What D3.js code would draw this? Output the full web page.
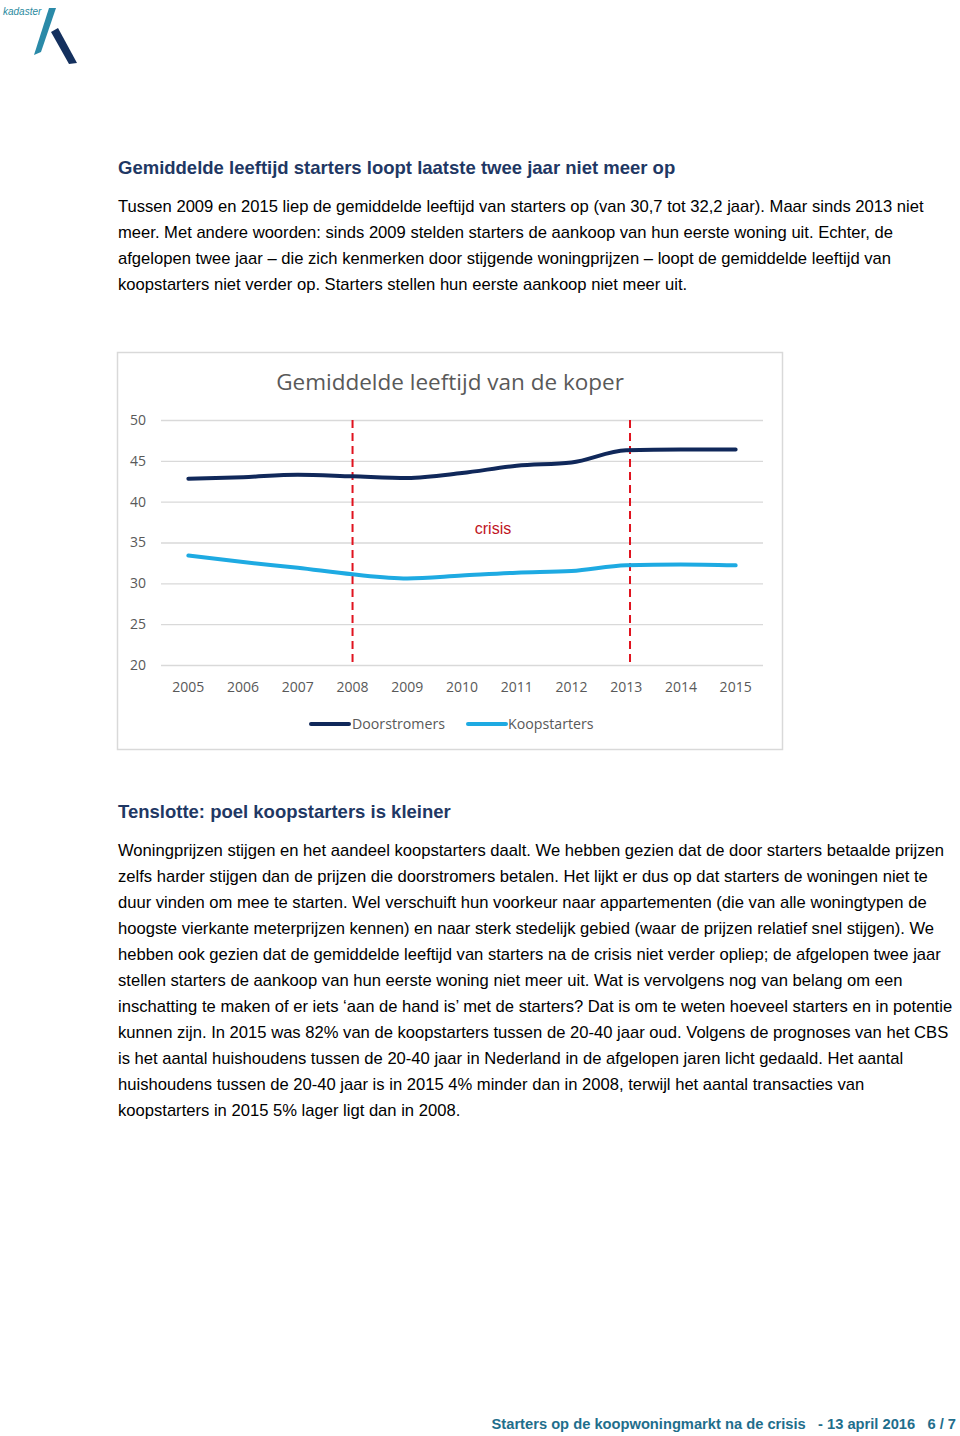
<!DOCTYPE html>
<html><head><meta charset="utf-8">
<script src="https://cdn.jsdelivr.net/npm/d3@7"></script>
<style>body{margin:0;background:#fff}svg{display:block}</style>
</head><body>
<script>
const years = [2005,2006,2007,2008,2009,2010,2011,2012,2013,2014,2015];
const doorstromers = [42.8,43.0,43.3,43.1,42.9,43.5,44.4,44.8,46.3,46.4,46.4];
const koopstarters = [33.4,32.6,31.9,31.1,30.6,30.95,31.3,31.5,32.2,32.3,32.2];
const yTicks = [20,25,30,35,40,45,50];
const crisisYears = [2008, 2013.07];
const chartTitle = "Gemiddelde leeftijd van de koper";
const seriesNames = ["Doorstromers","Koopstarters"];
const heading1 = "Gemiddelde leeftijd starters loopt laatste twee jaar niet meer op";
const para1 = [
"Tussen 2009 en 2015 liep de gemiddelde leeftijd van starters op (van 30,7 tot 32,2 jaar). Maar sinds 2013 niet",
"meer. Met andere woorden: sinds 2009 stelden starters de aankoop van hun eerste woning uit. Echter, de",
"afgelopen twee jaar \u2013 die zich kenmerken door stijgende woningprijzen \u2013 loopt de gemiddelde leeftijd van",
"koopstarters niet verder op. Starters stellen hun eerste aankoop niet meer uit."];
const heading2 = "Tenslotte: poel koopstarters is kleiner";
const para2 = [
"Woningprijzen stijgen en het aandeel koopstarters daalt. We hebben gezien dat de door starters betaalde prijzen",
"zelfs harder stijgen dan de prijzen die doorstromers betalen. Het lijkt er dus op dat starters de woningen niet te",
"duur vinden om mee te starten. Wel verschuift hun voorkeur naar appartementen (die van alle woningtypen de",
"hoogste vierkante meterprijzen kennen) en naar sterk stedelijk gebied (waar de prijzen relatief snel stijgen). We",
"hebben ook gezien dat de gemiddelde leeftijd van starters na de crisis niet verder opliep; de afgelopen twee jaar",
"stellen starters de aankoop van hun eerste woning niet meer uit. Wat is vervolgens nog van belang om een",
"inschatting te maken of er iets \u2018aan de hand is\u2019 met de starters? Dat is om te weten hoeveel starters en in potentie",
"kunnen zijn. In 2015 was 82% van de koopstarters tussen de 20-40 jaar oud. Volgens de prognoses van het CBS",
"is het aantal huishoudens tussen de 20-40 jaar in Nederland in de afgelopen jaren licht gedaald. Het aantal",
"huishoudens tussen de 20-40 jaar is in 2015 4% minder dan in 2008, terwijl het aantal transacties van",
"koopstarters in 2015 5% lager ligt dan in 2008."];
const footer = "Starters op de koopwoningmarkt na de crisis   - 13 april 2016   6 / 7";

const W = 960, H = 1436;
const svg = d3.select("body").append("svg").attr("width", W).attr("height", H);

// logo
svg.append("text").attr("x",3).attr("y",15).attr("font-family","Liberation Sans, Arial, sans-serif")
  .attr("font-style","italic").attr("font-size",10).attr("fill","#2a8aa0").text("kadaster");
svg.append("path").attr("d","M49,8 L56,8 L41,52 L34,55 Z").attr("fill","#2a8aa8");
svg.append("path").attr("d","M51,32 L58,28 L77,63 L69,64 Z").attr("fill","#14305e");

const bodyFont = "Liberation Sans, Arial, sans-serif";
svg.append("text").attr("x",118).attr("y",174).attr("font-family",bodyFont).attr("font-weight","bold")
  .attr("font-size",18.5).attr("fill","#1f3864").text(heading1);
para1.forEach((t,i)=>svg.append("text").attr("x",118).attr("y",212+i*26).attr("font-family",bodyFont)
  .attr("font-size",16.6).attr("fill","#000").text(t));
svg.append("text").attr("x",118).attr("y",818).attr("font-family",bodyFont).attr("font-weight","bold")
  .attr("font-size",18.5).attr("fill","#1f3864").text(heading2);
para2.forEach((t,i)=>svg.append("text").attr("x",118).attr("y",856+i*26).attr("font-family",bodyFont)
  .attr("font-size",16.6).attr("fill","#000").text(t));
svg.append("text").attr("x",956).attr("y",1429).attr("text-anchor","end").attr("font-family",bodyFont)
  .attr("font-weight","bold").attr("font-size",14.7).attr("fill","#1f6e8c").attr("xml:space","preserve").text(footer);

// chart box
svg.append("rect").attr("x",117.5).attr("y",352.5).attr("width",665).attr("height",397)
  .attr("fill","#fff").attr("stroke","#d9d9d9").attr("stroke-width",1.5);

const chartFont = "'Open Sans', sans-serif";
svg.append("text").attr("x",450).attr("y",390).attr("text-anchor","middle").attr("font-family",chartFont)
  .attr("font-size",22.5).attr("fill","#595959").text(chartTitle);

const x = d3.scaleBand().domain(years).range([161,763]);
const xl = d3.scaleLinear().domain([years[0], years[years.length-1]])
  .range([x(years[0])+x.bandwidth()/2, x(years[years.length-1])+x.bandwidth()/2]);
const y = d3.scaleLinear().domain([20,50]).range([665,420]);

const yAxis = svg.append("g").attr("transform","translate(161,0)")
  .call(d3.axisLeft(y).tickValues(yTicks).tickSize(-602).tickPadding(15));
yAxis.select(".domain").remove();
yAxis.selectAll("line").attr("stroke","#d9d9d9").attr("stroke-width",1.3);
yAxis.selectAll("text").attr("font-family",chartFont).attr("font-size",14).attr("fill","#595959");

const xAxis = svg.append("g").attr("transform","translate(0,665)")
  .call(d3.axisBottom(x).tickSize(0).tickPadding(17));
xAxis.select(".domain").remove();
xAxis.selectAll("text").attr("font-family",chartFont).attr("font-size",14).attr("fill","#595959");

// crisis lines
svg.selectAll(".crisis").data(crisisYears).enter().append("line")
  .attr("x1",d=>xl(d)).attr("x2",d=>xl(d)).attr("y1",y(50)).attr("y2",y(20))
  .attr("stroke","#e0131f").attr("stroke-width",2).attr("stroke-dasharray","8,5");
svg.append("text").attr("x",493).attr("y",534).attr("text-anchor","middle").attr("font-family",bodyFont)
  .attr("font-size",16).attr("fill","#c0141e").text("crisis");

const line = d3.line().x((d,i)=>xl(years[i])).y(d=>y(d)).curve(d3.curveMonotoneX);
const colors = ["#10285a","#1eaae2"];
[doorstromers, koopstarters].forEach((s,k)=>{
  svg.append("path").datum(s).attr("d",line).attr("fill","none").attr("stroke",colors[k])
    .attr("stroke-width",4).attr("stroke-linecap","round");
});

// legend
const leg = [{x:311,tx:352},{x:468,tx:508}];
leg.forEach((l,k)=>{
  svg.append("line").attr("x1",l.x).attr("x2",l.x+38).attr("y1",724).attr("y2",724)
    .attr("stroke",colors[k]).attr("stroke-width",4).attr("stroke-linecap","round");
  svg.append("text").attr("x",l.tx).attr("y",729).attr("font-family",chartFont).attr("font-size",14.2)
    .attr("fill","#595959").text(seriesNames[k]);
});
</script>
</body></html>
